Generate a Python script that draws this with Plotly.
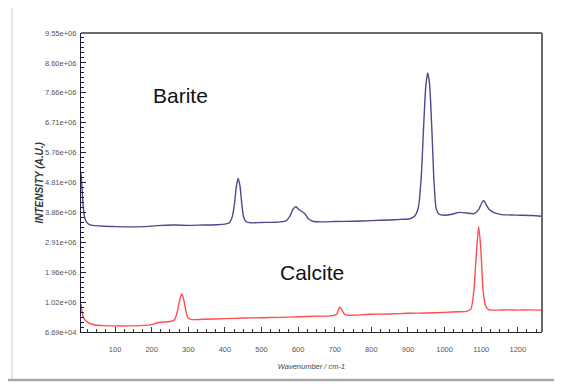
import plotly.graph_objects as go

# ---------------- data ----------------
barite_x = [7, 10, 13, 17, 22, 30, 45, 70, 100, 140, 180, 215, 260, 300, 340, 380, 400, 412,
            420, 426, 431, 436, 441, 446, 451, 457, 470, 500, 540, 565, 578, 586, 594, 602,
            610, 618, 628, 640, 660, 700, 750, 800, 850, 880, 905, 918, 928, 936, 943, 949,
            954, 959, 965, 971, 977, 985, 1000, 1020, 1040, 1060, 1080, 1093, 1101, 1107,
            1113, 1122, 1135, 1155, 1180, 1210, 1240, 1265]
barite_y = [5.10e6, 4.60e6, 4.05e6, 3.70e6, 3.55e6, 3.47e6, 3.44e6, 3.42e6, 3.41e6, 3.40e6,
            3.41e6, 3.44e6, 3.46e6, 3.45e6, 3.46e6, 3.47e6, 3.49e6, 3.53e6,
            3.72e6, 4.12e6, 4.66e6, 4.94e6, 4.72e6, 4.14e6, 3.72e6, 3.57e6, 3.53e6, 3.54e6,
            3.55e6, 3.58e6, 3.75e6, 3.96e6, 4.04e6, 3.95e6,
            3.89e6, 3.82e6, 3.66e6, 3.58e6, 3.56e6, 3.57e6, 3.58e6, 3.60e6, 3.62e6, 3.64e6,
            3.66e6, 3.74e6, 4.00e6, 4.95e6, 6.65e6, 7.92e6,
            8.28e6, 7.92e6, 6.55e6, 4.85e6, 3.98e6, 3.80e6, 3.77e6, 3.80e6, 3.86e6, 3.84e6,
            3.82e6, 3.95e6, 4.15e6, 4.24e6,
            4.12e6, 3.95e6, 3.85e6, 3.79e6, 3.78e6, 3.77e6, 3.76e6, 3.74e6]

calcite_x = [7, 10, 14, 20, 30, 45, 70, 100, 140, 170, 200, 215, 230, 250, 262, 270, 276, 282,
             288, 294, 300, 310, 340, 400, 450, 500, 550, 600, 650, 690, 705, 714, 720, 728,
             745, 800, 850, 900, 950, 1000, 1040, 1060, 1072, 1080, 1087, 1093, 1099, 1105,
             1112, 1120, 1140, 1170, 1200, 1230, 1265]
calcite_y = [0.95e6, 0.70e6, 0.52e6, 0.42e6, 0.34e6, 0.29e6, 0.27e6, 0.26e6, 0.26e6, 0.27e6,
             0.30e6, 0.36e6, 0.38e6, 0.40e6, 0.45e6, 0.70e6, 1.05e6, 1.28e6,
             1.08e6, 0.70e6, 0.50e6, 0.46e6, 0.47e6, 0.49e6, 0.51e6, 0.52e6, 0.53e6, 0.55e6,
             0.57e6, 0.58e6, 0.63e6, 0.86e6, 0.75e6, 0.62e6,
             0.60e6, 0.63e6, 0.64e6, 0.66e6, 0.67e6, 0.69e6, 0.71e6, 0.72e6, 0.80e6, 1.40e6,
             2.60e6, 3.41e6, 2.70e6, 1.40e6,
             0.90e6, 0.78e6, 0.76e6, 0.77e6, 0.76e6, 0.77e6, 0.76e6]

y_tick_vals = [6.69e4, 1.015e6, 1.964e6, 2.912e6, 3.860e6, 4.809e6, 5.757e6, 6.706e6,
               7.654e6, 8.602e6, 9.550e6]
y_tick_text = ["6.69e+04", "1.02e+06", "1.96e+06", "2.91e+06", "3.86e+06", "4.81e+06",
               "5.76e+06", "6.71e+06", "7.66e+06", "8.60e+06", "9.55e+06"]
x_tick_vals = [100, 200, 300, 400, 500, 600, 700, 800, 900, 1000, 1100, 1200]

labels = ["Barite", "Calcite"]
label_pos = [(280, 7.58e6), (638, 1.94e6)]

# ---------------- figure ----------------
fig = go.Figure()
fig.add_trace(go.Scatter(x=barite_x, y=barite_y, mode="lines", name="Barite",
                         line=dict(color="#4b4b8f", width=1.4, shape="spline", smoothing=0.6)))
fig.add_trace(go.Scatter(x=calcite_x, y=calcite_y, mode="lines", name="Calcite",
                         line=dict(color="#ff4d4d", width=1.4, shape="spline", smoothing=0.6)))

for txt, (ax, ay) in zip(labels, label_pos):
    fig.add_annotation(x=ax, y=ay, text=txt, showarrow=False,
                       font=dict(family="Liberation Sans, Arial", size=21, color="#111"))

# y-axis title placed as a rotated annotation
fig.add_annotation(xref="paper", yref="paper", x=-0.091, y=0.5, xanchor="center",
                   yanchor="middle", text="<b><i>INTENSITY (A.U.)</i></b>",
                   textangle=-90, showarrow=False,
                   font=dict(family="Liberation Sans, Arial", size=10, color="#333"))

tickfont = dict(family="Liberation Sans, Arial", size=7.5, color="#555")
fig.update_xaxes(range=[7, 1266], tickvals=x_tick_vals, ticks="inside", ticklen=5,
                 tickcolor="#333", showline=True, linecolor="#222", linewidth=1.2,
                 showgrid=False, zeroline=False, tickfont=tickfont, ticklabelstandoff=10,
                 minor=dict(dtick=25, tick0=0, ticks="inside", ticklen=3, tickcolor="#333"),
                 title=dict(text="<i>Wavenumber / cm-1</i>", standoff=10,
                            font=dict(family="Liberation Sans, Arial", size=7.5, color="#444")))
fig.update_yaxes(range=[6.69e4, 9.55e6], tickvals=y_tick_vals, ticktext=y_tick_text,
                 ticks="inside", ticklen=5, tickcolor="#222", showline=True,
                 linecolor="#1a1a40", linewidth=1.2, showgrid=False, zeroline=False,
                 tickfont=tickfont, ticklabelstandoff=2,
                 minor=dict(dtick=(9.55e6 - 6.69e4) / 60, tick0=6.69e4, ticks="inside",
                            ticklen=3, tickcolor="#222"))

shapes = [
    # plot frame top/right
    dict(type="line", xref="paper", yref="paper", x0=0, x1=1, y0=1, y1=1,
         line=dict(color="#6a6a6a", width=2)),
    dict(type="line", xref="paper", yref="paper", x0=1, x1=1, y0=0, y1=1,
         line=dict(color="#6a6a6a", width=2)),
    # outer frame
    dict(type="line", xref="paper", yref="paper", x0=-0.1497, x1=1.06, y0=1.0936, y1=1.0936,
         line=dict(color="#cfcfcf", width=1)),
    dict(type="line", xref="paper", yref="paper", x0=-0.1497, x1=-0.1497, y0=-0.16, y1=1.0936,
         line=dict(color="#cfcfcf", width=1)),
    dict(type="line", xref="paper", yref="paper", x0=-0.2, x1=1.06, y0=-0.1605, y1=-0.1605,
         line=dict(color="#a8a8a8", width=2.5)),
]

# page body has an 8px default margin, so margins are reduced accordingly
fig.update_layout(width=562, height=384, margin=dict(l=73, r=28, t=25, b=60),
                  paper_bgcolor="white", plot_bgcolor="white", showlegend=False,
                  shapes=shapes)

fig.write_html("out.html")
